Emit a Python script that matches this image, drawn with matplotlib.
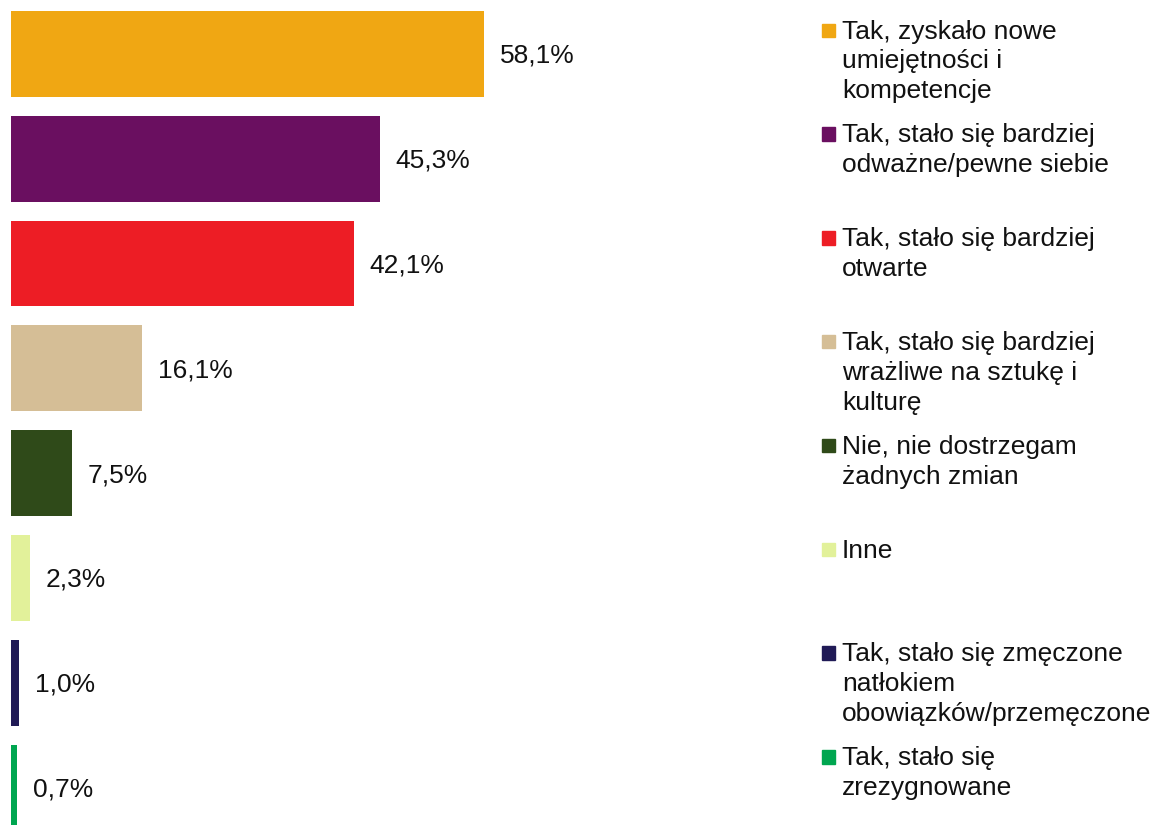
import matplotlib.pyplot as plt
from matplotlib.patches import Rectangle

plt.rcParams['font.family'] = ['Liberation Sans', 'DejaVu Sans']

# data
categories = [
    'Tak, zyskało nowe\numiejętności i\nkompetencje',
    'Tak, stało się bardziej\nodważne/pewne siebie',
    'Tak, stało się bardziej\notwarte',
    'Tak, stało się bardziej\nwrażliwe na sztukę i\nkulturę',
    'Nie, nie dostrzegam\nżadnych zmian',
    'Inne',
    'Tak, stało się zmęczone\nnatłokiem\nobowiązków/przemęczone',
    'Tak, stało się\nzrezygnowane',
]
values = [58.1, 45.3, 42.1, 16.1, 7.5, 2.3, 1.0, 0.7]
colors = ['#F0A713', '#6A0F60', '#ED1D25', '#D5BE96', '#2F4A19',
          '#E2F19A', '#201A56', '#00A650']

W, H = 1158, 825
fig = plt.figure(figsize=(W / 100, H / 100), dpi=100)

# axes placed so bars land where they are in the reference
px_per_unit = 8.14
left_px, right_px = 11, 790
top_px, bottom_px = 1.5, 839.9
ax = fig.add_axes([left_px / W, 1 - bottom_px / H,
                   (right_px - left_px) / W, (bottom_px - top_px) / H])

pos = list(range(len(values)))
ax.barh(pos, values, height=0.819, color=colors)
ax.set_xlim(0, (right_px - left_px) / px_per_unit)
ax.set_ylim(len(values) - 0.5, -0.5)
ax.axis('off')

for p, v in zip(pos, values):
    ax.annotate(f'{v:.1f}'.replace('.', ',') + '%', (v, p),
                xytext=(11.5, -1.5), textcoords='offset points',
                ha='left', va='center', fontsize=19, color='#111111')

# legend, one entry per category, stacked down the right side
base0, step = 38.5, 103.8
for i, (lab, c) in enumerate(zip(categories, colors)):
    b = base0 + step * i
    fig.text(842 / W, 1 - (b - 19) / H, lab, fontsize=19, color='#111111',
             ha='left', va='top', linespacing=1.31)
    fig.patches.append(Rectangle((821.5 / W, 1 - (b - 1.5) / H), 13.5 / W, 13.5 / H,
                                 transform=fig.transFigure, color=c))

fig.savefig('out.png', dpi=100)
